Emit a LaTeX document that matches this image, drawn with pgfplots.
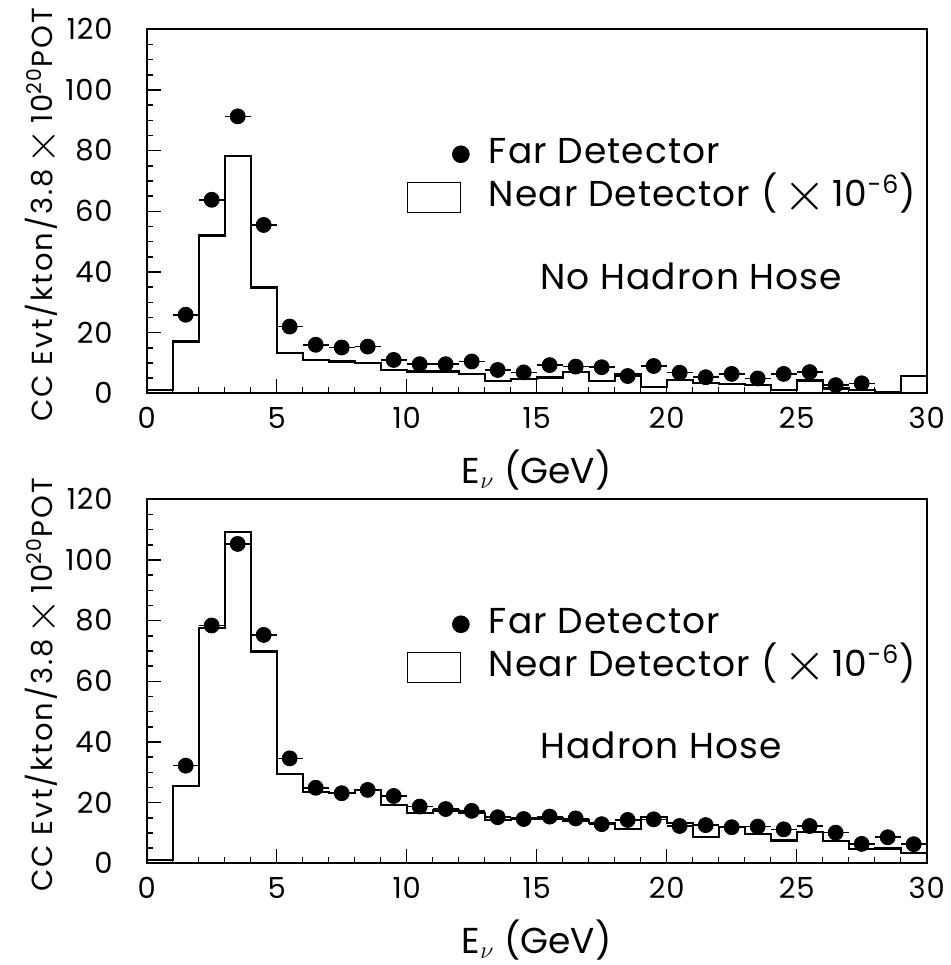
\documentclass[border=0pt]{standalone}
\usepackage{pgfplots}
\pgfplotsset{compat=1.18}
\usepackage{pgfplotstable}
\usepackage{fontspec}
\setmainfont{Poppins}
\newcommand{\bigx}{\raisebox{-0.12em}{\scalebox{1.6}{$\times$}}}

\pgfplotstableread{
x y
0 1.0
1 17.1
2 52.0
3 78.2
4 34.9
5 13.4
6 11.0
7 10.5
8 9.9
9 7.7
10 7.2
11 7.2
12 6.3
13 4.1
14 4.8
15 5.2
16 7.1
17 4.1
18 6.4
19 2.2
20 4.4
21 3.3
22 3.1
23 2.7
24 1.1
25 4.2
26 1.6
27 1.1
28 0.3
29 5.8
30 5.8
}\nearA

\pgfplotstableread{
x y
1.5 25.9
2.5 63.8
3.5 91.3
4.5 55.5
5.5 22.0
6.5 16.0
7.5 15.1
8.5 15.4
9.5 11.0
10.5 9.6
11.5 9.6
12.5 10.5
13.5 7.7
14.5 6.9
15.5 9.3
16.5 8.8
17.5 8.6
18.5 5.7
19.5 9.0
20.5 6.8
21.5 5.3
22.5 6.4
23.5 4.9
24.5 6.4
25.5 7.0
26.5 2.7
27.5 3.3
}\farA

\pgfplotstableread{
x y
0 1.1
1 25.5
2 77.5
3 109.3
4 69.8
5 29.5
6 23.6
7 23.3
8 24.2
9 19.2
10 16.5
11 17.4
12 16.5
13 14.3
14 14.8
15 14.8
16 14.1
17 13.2
18 11.2
19 15.2
20 13.2
21 8.6
22 11.9
23 9.7
24 7.5
25 10.4
26 7.4
27 4.6
28 4.9
29 3.5
30 3.5
}\nearB

\pgfplotstableread{
x y
1.5 32.2
2.5 78.4
3.5 105.3
4.5 75.3
5.5 34.6
6.5 24.9
7.5 23.1
8.5 24.2
9.5 22.2
10.5 18.7
11.5 17.9
12.5 17.3
13.5 15.2
14.5 14.6
15.5 15.4
16.5 14.8
17.5 12.9
18.5 14.3
19.5 14.5
20.5 12.3
21.5 12.6
22.5 11.9
23.5 12.1
24.5 11.2
25.5 12.3
26.5 10.1
27.5 6.4
28.5 8.6
29.5 6.3
}\farB

\pgfplotsset{
  panel/.style={
    scale only axis,
    width=390pt, height=182pt,
    xmin=0, xmax=30, ymin=0, ymax=120,
    xtick={0,5,...,30}, ytick={0,20,...,120},
    minor x tick num=4, minor y tick num=3,
    xtick pos=bottom, ytick pos=left,
    tick align=inside,
    major tick length=7pt, minor tick length=3.3pt,
    every tick/.style={black, line width=0.8pt},
    axis line style={line width=1pt},
    /pgf/number format/assume math mode=true,
    ticklabel style={font=\fontsize{14.5}{16}\selectfont\addfontfeatures{LetterSpace=3}},
    xticklabel style={anchor=base, yshift=-17.5pt},
    yticklabel style={anchor=east, inner sep=0pt, xshift=-16.8pt},
    xlabel={E$_{\nu}$ (GeV)},
    xlabel style={font=\fontsize{18}{22}\selectfont, at={(axis description cs:0.5,0)}, anchor=base, yshift=-44.9pt},
    ylabel={CC Evt/kton/3.8\,\bigx\,10\textsuperscript{20}POT},
    ylabel style={font=\fontsize{14.5}{16}\selectfont\addfontfeatures{LetterSpace=7}, at={(axis description cs:-0.134,0.49)}, anchor=center},
    legend cell align=left,
    legend style={draw=none, fill=none, at={(axis description cs:0.3337,0.71)}, anchor=north west,
      font=\fontsize{18}{20}\selectfont\addfontfeatures{LetterSpace=3}, row sep=2.5pt, inner sep=0pt,
      nodes={inner sep=1pt, text height=13pt, text depth=4pt}},
  },
  farpts/.style={only marks, mark=*, mark size=3.75pt, black,
    error bars/x dir=both, error bars/x fixed=0.5,
    error bars/error bar style={line width=0.8pt}, error bars/error mark=none,
    legend image code/.code={\path[draw=none,fill=none] (0pt,-7.25pt) rectangle (39.5pt,7.25pt); \fill[black] (26.5pt,0pt) circle (4.2pt);}},
  nearhist/.style={const plot mark left, black, line width=1.1pt, no marks,
    legend image code/.code={\path[draw=none,fill=none] (0pt,-7.25pt) rectangle (39.5pt,7.25pt); \draw[black, line width=0.5pt] (0pt,-7.5pt) rectangle (26.5pt,7.5pt);}},
}

\begin{document}
\begin{tikzpicture}
\useasboundingbox (0pt,0pt) rectangle (475pt,-482.5pt);
\begin{axis}[panel, at={(73.35pt,-196.65pt)}, anchor=south west]
\addplot[farpts] table[x=x,y=y] {\farA};
\addlegendentry{Far Detector}
\addplot[nearhist] table[x=x,y=y] {\nearA};
\addlegendentry{Near Detector (\,\bigx\,10\textsuperscript{-6})}
\node[anchor=west, inner sep=0pt, font=\fontsize{18}{20}\selectfont\addfontfeatures{LetterSpace=3}] at (axis cs:15.13,38.4) {No Hadron Hose};
\end{axis}
\begin{axis}[panel, at={(73.35pt,-431.65pt)}, anchor=south west]
\addplot[farpts] table[x=x,y=y] {\farB};
\addlegendentry{Far Detector}
\addplot[nearhist] table[x=x,y=y] {\nearB};
\addlegendentry{Near Detector (\,\bigx\,10\textsuperscript{-6})}
\node[anchor=west, inner sep=0pt, font=\fontsize{18}{20}\selectfont\addfontfeatures{LetterSpace=3}] at (axis cs:15.13,39.0) {Hadron Hose};
\end{axis}
\end{tikzpicture}
\end{document}
